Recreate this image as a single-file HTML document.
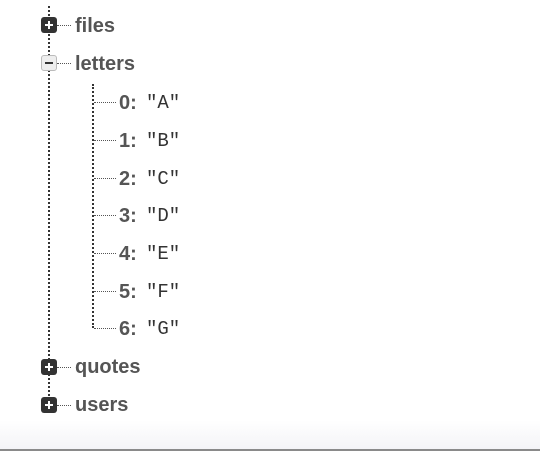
<!DOCTYPE html>
<html><head><meta charset="utf-8"><style>
html,body{margin:0;padding:0}
body{width:540px;height:451px;position:relative;overflow:hidden;background:#fff;font-family:"Liberation Sans",sans-serif}
.vl{position:absolute;width:0;border-left:2px dotted #333}
.hl{position:absolute;height:0;border-top:1px dotted #555}
.box{position:absolute;width:16px;height:16px;border-radius:3px;box-sizing:border-box}
.plus{background:#333}
.plus:before{content:"";position:absolute;left:4px;top:7px;width:8px;height:2px;background:#fff}
.plus:after{content:"";position:absolute;left:7px;top:4px;width:2px;height:8px;background:#fff}
.minus{background:#eee;border:1px solid #bbb}
.minus:before{content:"";position:absolute;left:3px;top:6px;width:8px;height:2px;background:#333}
.lbl{position:absolute;font-weight:bold;font-size:20px;color:#555;line-height:20px}
.k{position:absolute;font-weight:bold;font-size:20px;color:#555;line-height:20px}
.v{position:absolute;font-family:"Liberation Mono",monospace;font-size:19px;color:#333;line-height:20px}
.foot{position:absolute;left:0;top:420px;width:540px;height:29px;background:linear-gradient(#fff,#f4f4f7)}
.bl{position:absolute;left:0;top:449px;width:540px;height:2px;background:#8a8a8a}
</style></head><body>
<div class="vl" style="left:48px;top:6px;height:398px"></div>
<div class="vl" style="left:92px;top:84px;height:244px"></div>

<div class="hl" style="left:57px;top:25px;width:14px"></div>
<div class="box plus" style="left:41px;top:17px"></div>
<div class="lbl" style="left:75px;top:16px">files</div>

<div class="hl" style="left:57px;top:63px;width:14px"></div>
<div class="box minus" style="left:41px;top:55px"></div>
<div class="lbl" style="left:75px;top:54px">letters</div>

<div class="hl" style="left:94px;top:102px;width:22px"></div>
<div class="k" style="left:119px;top:93px">0:</div><div class="v" style="left:146px;top:93px">"A"</div>
<div class="hl" style="left:94px;top:140px;width:22px"></div>
<div class="k" style="left:119px;top:131px">1:</div><div class="v" style="left:146px;top:131px">"B"</div>
<div class="hl" style="left:94px;top:178px;width:22px"></div>
<div class="k" style="left:119px;top:169px">2:</div><div class="v" style="left:146px;top:169px">"C"</div>
<div class="hl" style="left:94px;top:215px;width:22px"></div>
<div class="k" style="left:119px;top:206px">3:</div><div class="v" style="left:146px;top:206px">"D"</div>
<div class="hl" style="left:94px;top:253px;width:22px"></div>
<div class="k" style="left:119px;top:244px">4:</div><div class="v" style="left:146px;top:244px">"E"</div>
<div class="hl" style="left:94px;top:291px;width:22px"></div>
<div class="k" style="left:119px;top:282px">5:</div><div class="v" style="left:146px;top:282px">"F"</div>
<div class="hl" style="left:94px;top:328px;width:22px"></div>
<div class="k" style="left:119px;top:319px">6:</div><div class="v" style="left:146px;top:319px">"G"</div>

<div class="hl" style="left:57px;top:367px;width:14px"></div>
<div class="box plus" style="left:41px;top:359px"></div>
<div class="lbl" style="left:75px;top:357px">quotes</div>

<div class="hl" style="left:57px;top:405px;width:14px"></div>
<div class="box plus" style="left:41px;top:397px"></div>
<div class="lbl" style="left:75px;top:395px">users</div>

<div class="foot"></div>
<div class="bl"></div>
</body></html>
